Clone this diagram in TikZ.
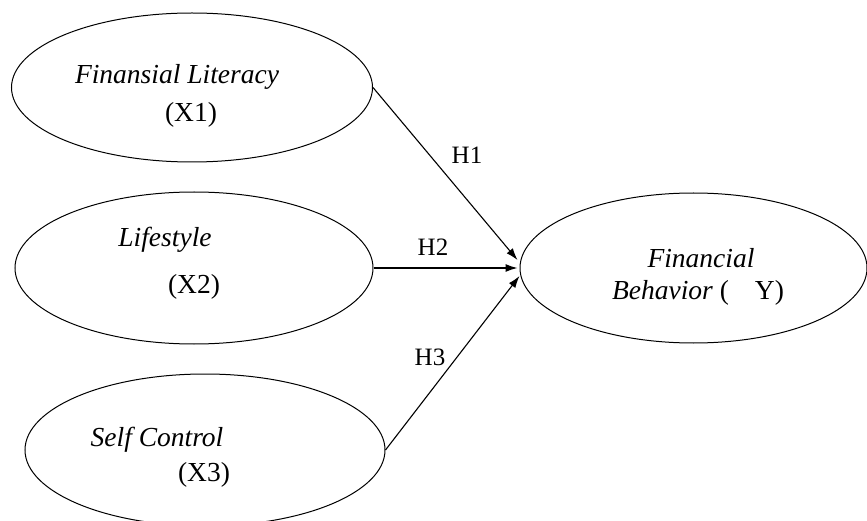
\documentclass[tikz,border=0pt]{standalone}
\usepackage{fontspec}
\setmainfont{Liberation Serif}
\usetikzlibrary{shapes.geometric,arrows.meta,calc}
\begin{document}
\begin{tikzpicture}[x=1pt,y=-1pt,
  construct/.style={draw,ellipse,line width=1pt,inner sep=0pt},
  lbl/.style={inner sep=0pt,font=\fontsize{27.5}{32}\selectfont},
  hyp/.style={inner sep=0pt,font=\fontsize{25}{29}\selectfont},
  path/.style={line width=1.1pt,-{Latex[length=12pt,width=8pt]}}]
\useasboundingbox (0,0) rectangle (867,521);
\clip (0,0) rectangle (867,521);
\node[construct,minimum width=361pt,minimum height=149pt] (x1) at (192,87.5) {};
\node[construct,minimum width=358pt,minimum height=152pt] (x2) at (194,268) {};
\node[construct,minimum width=360pt,minimum height=152pt] (x3) at (205,450) {};
\node[construct,minimum width=347pt,minimum height=150pt] (y) at (693.5,268) {};
\node[lbl] (t1a) at (177,77) {\itshape Finansial Literacy};
\node[lbl] (t1b) at (191,115) {(X1)};
\node[lbl] (t2a) at (165,240) {\itshape Lifestyle};
\node[lbl] (t2b) at (194,287) {(X2)};
\node[lbl] (t3a) at (157,440) {\itshape Self Control};
\node[lbl] (t3b) at (204,475) {(X3)};
\node[lbl] (tya) at (701,258) {\itshape Financial};
\node[lbl] (tyb) at (698,293) {{\itshape Behavior} (\hspace{26pt}Y)};
\coordinate (e1) at ($(y.west)+(-2,-8)$);
\coordinate (e2) at ($(y.west)+(-2,0)$);
\coordinate (e3) at ($(y.west)+(0,8)$);
\draw[path] (x1.east) -- (e1);
\draw[path] (x2.east) -- (e2);
\draw[path] (x3.east) -- (e3);
\node[hyp] (h1) at (467,155) {H1};
\node[hyp] (h2) at (433,247) {H2};
\node[hyp] (h3) at (430,357) {H3};
\end{tikzpicture}
\end{document}
